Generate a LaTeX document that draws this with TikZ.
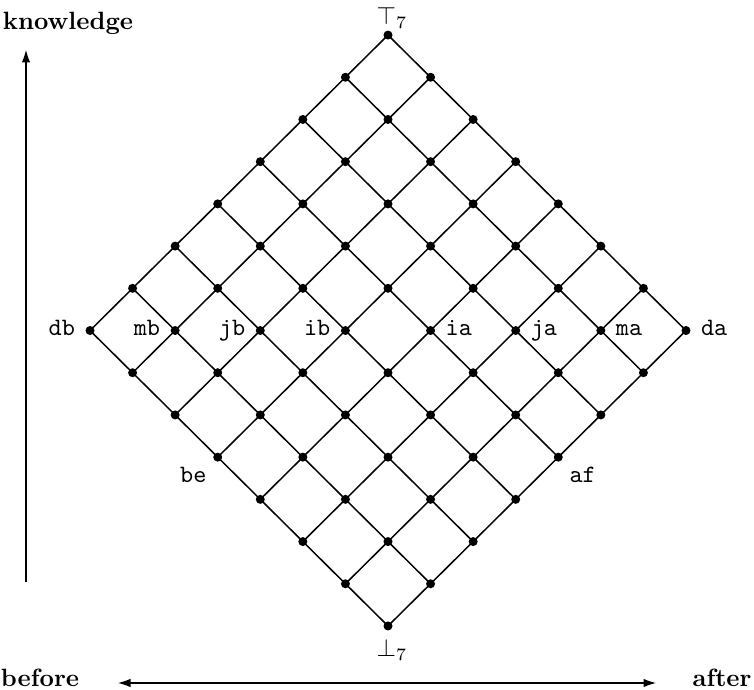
\documentclass[tikz,border=0pt]{standalone}
\usetikzlibrary{arrows.meta}
\begin{document}
\begin{tikzpicture}[x=0.4pt,y=-0.4pt,
  dot/.style={circle,fill=black,inner sep=0pt,minimum size=3.6pt},
  edge/.style={draw=black,line width=0.6pt},
  lbl/.style={font=\ttfamily},
  axtext/.style={font=\bfseries,anchor=base}]
\useasboundingbox (0,0) rectangle (754,690);
% grid nodes
\foreach \i in {0,...,7}{
  \foreach \j in {0,...,7}{
    \pgfmathsetmacro{\px}{388+(\j-\i)*42.57}
    \pgfmathsetmacro{\py}{626-(\i+\j)*42.21}
    \coordinate (p\i-\j) at (\px,\py);
  }
}
% edges
\foreach \i in {0,...,7}{
  \foreach \j [count=\k from 1] in {0,...,6}{
    \draw[edge] (p\i-\j) -- (p\i-\k);
    \draw[edge] (p\j-\i) -- (p\k-\i);
  }
}
\foreach \i in {0,...,7}{
  \foreach \j in {0,...,7}{
    \node[dot] (d\i-\j) at (p\i-\j) {};
  }
}
% labels
\tikzset{lleft/.style={lbl,anchor=mid east,xshift=-2.5pt},
         lright/.style={lbl,anchor=mid west,xshift=2.5pt}}
\node[lleft] (ldb) at (d7-0.center) {db};
\node[lleft] (lmb) at (d6-1.center) {mb};
\node[lleft] (ljb) at (d5-2.center) {jb};
\node[lleft] (lib) at (d4-3.center) {ib};
\node[lright] (lia) at (d3-4.center) {ia};
\node[lright] (lja) at (d2-5.center) {ja};
\node[lright] (lma) at (d1-6.center) {ma};
\node[lright] (lda) at (d0-7.center) {da};
\node[lbl,anchor=north east,xshift=-1pt,yshift=-0.5pt] (lbe) at (d4-0.center) {be};
\node[lbl,anchor=north west,xshift=1pt,yshift=-0.5pt] (laf) at (d0-4.center) {af};
\node[anchor=base] (ltop) at (392,25) {$\top_7$};
\node[anchor=base] (lbot) at (392,657) {$\perp_7$};
% axes
\node[axtext] (know) at (68,30) {knowledge};
\coordinate (vb) at (26,582);
\coordinate (vt) at (26,50);
\draw[draw=black,line width=0.45pt,-{Latex[length=5pt,width=3.4pt]}] (vb) -- (vt);
\node[axtext] (bef) at (40,687) {before};
\node[axtext] (aft) at (722,687) {after};
\coordinate (hl) at (118,683);
\coordinate (hr) at (656,683);
\draw[draw=black,line width=0.45pt,{Latex[length=5pt,width=3.4pt]}-{Latex[length=5pt,width=3.4pt]}] (hl) -- (hr);
\end{tikzpicture}
\end{document}
